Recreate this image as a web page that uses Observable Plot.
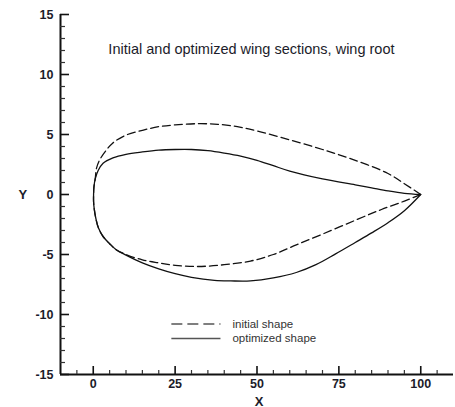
<!DOCTYPE html>
<html>
<head>
<meta charset="utf-8">
<script src="https://cdn.jsdelivr.net/npm/d3@7"></script>
<script src="https://cdn.jsdelivr.net/npm/@observablehq/plot@0.6"></script>
<style>
  html, body { margin: 0; padding: 0; background: #fff; }
  #chart svg { display: block; }
</style>
</head>
<body>
<div id="chart"></div>
<script>
// Initial wing section (root), traced trailing edge -> upper surface -> leading edge -> lower surface -> trailing edge
const initialX = [100, 95, 90, 80, 70, 60, 50, 44, 38, 32, 25, 20, 15, 10, 6, 4, 2, 1, 0.6, 0.2, 0.1,
                  0.1, 0.3, 0.8, 1.6, 3, 5, 7, 10, 15, 20, 25, 32, 40, 48, 55, 62, 70, 80, 88, 95, 100];
const initialY = [0, 0.9, 1.75, 2.85, 3.75, 4.55, 5.3, 5.65, 5.85, 5.9, 5.8, 5.65, 5.35, 4.95, 4.3, 3.7, 2.9, 2.2, 1.3, 0.6, 0,
                  -0.6, -1.2, -2.0, -2.8, -3.5, -4.1, -4.6, -5.0, -5.45, -5.7, -5.9, -6.0, -5.85, -5.55, -5.0, -4.2, -3.3, -2.15, -1.25, -0.55, 0];

// Optimized wing section (root)
const optimizedX = [100, 95, 90, 85, 80, 70, 60, 55, 50, 45, 40, 35, 30, 25, 20, 15, 10, 6, 3, 1.5, 0.6, 0.2, 0.1,
                    0.1, 0.3, 0.8, 1.6, 3, 5, 7, 10, 15, 20, 25, 30, 37, 42, 48, 55, 62, 68, 74, 80, 85, 90, 95, 100];
const optimizedY = [0, 0.1, 0.3, 0.55, 0.8, 1.3, 1.95, 2.4, 2.85, 3.2, 3.45, 3.65, 3.75, 3.75, 3.7, 3.55, 3.35, 3.05, 2.6, 2.0, 1.3, 0.6, 0,
                    -0.6, -1.2, -2.0, -2.8, -3.5, -4.1, -4.6, -5.05, -5.7, -6.2, -6.6, -6.9, -7.15, -7.2, -7.2, -6.95, -6.5, -5.85, -4.95, -4.0, -3.2, -2.35, -1.35, 0];

// Axis ticks and labels
const xMajorTicks = [0, 25, 50, 75, 100];
const xMinorTicks = [-5, 5, 10, 15, 20, 30, 35, 40, 45, 55, 60, 65, 70, 80, 85, 90, 95, 105];
const yMajorTicks = [-15, -10, -5, 0, 5, 10, 15];
const yMinorTicks = d3.range(-14, 15).filter(v => v % 5 !== 0);

const titleText = "Initial and optimized wing sections, wing root";
const seriesNames = ["initial shape", "optimized shape"];

const xDomain = [-10, 110];
const yDomain = [-15, 15];

const W = 455, H = 407;
const mLeft = 60, mRight = 2, mTop = 14, mBottom = 33;
const frameW = W - mLeft - mRight;
const frameH = H - mTop - mBottom;

const initial = initialX.map((x, i) => ({x, y: initialY[i]}));
const optimized = optimizedX.map((x, i) => ({x, y: optimizedY[i]}));

// Annotation anchors (data units)
const titleAt = {x: 48.3, y: 12.1};
const legendAt = {x1: 24, x2: 39, xText: 42.5, y: [-10.8, -12.0]};

const font = "'Liberation Sans', Arial, Helvetica, sans-serif";
const ink = "#1c1c2a";
const plain = d => String(d); // hyphen-minus, as on the printed axis

const chart = Plot.plot({
  width: W,
  height: H,
  marginLeft: mLeft,
  marginRight: mRight,
  marginTop: mTop,
  marginBottom: mBottom,
  style: {fontFamily: font, background: "#fff", overflow: "visible"},
  x: {domain: xDomain},
  y: {domain: yDomain},
  marks: [
    // axis lines
    Plot.ruleX([xDomain[0]], {stroke: "#111", strokeWidth: 2}),
    Plot.ruleY([yDomain[0]], {stroke: "#111", strokeWidth: 2}),
    // inward ticks on the x axis
    Plot.tickX(xMajorTicks, {x: d => d, insetTop: frameH - 8, stroke: "#111", strokeWidth: 1.6}),
    Plot.tickX(xMinorTicks, {x: d => d, insetTop: frameH - 4, stroke: "#333", strokeWidth: 1.2}),
    // inward ticks on the y axis
    Plot.tickY(yMajorTicks, {y: d => d, insetRight: frameW - 9, stroke: "#111", strokeWidth: 1.6}),
    Plot.tickY(yMinorTicks, {y: d => d, insetRight: frameW - 5, stroke: "#333", strokeWidth: 1.2}),
    // tick labels
    Plot.axisX({ticks: xMajorTicks, tickFormat: plain, tickSize: 0, tickPadding: 5, fontSize: 12.5, fontWeight: "bold", fill: ink, label: null}),
    Plot.axisY({ticks: yMajorTicks, tickFormat: plain, tickSize: 0, tickPadding: 7, fontSize: 12.5, fontWeight: "bold", fill: ink, label: null}),
    // axis titles
    Plot.text(["X"], {frameAnchor: "bottom", dx: 2, dy: 31, fontSize: 13, fontWeight: "bold", fill: ink}),
    Plot.text(["Y"], {frameAnchor: "left", dx: -42, fontSize: 13, fontWeight: "bold", fill: ink}),
    // wing sections
    Plot.line(initial, {x: "x", y: "y", stroke: "#111", strokeWidth: 1.3, strokeDasharray: "8,4", curve: "catmull-rom"}),
    Plot.line(optimized, {x: "x", y: "y", stroke: "#111", strokeWidth: 1.3, curve: "catmull-rom"}),
    // title
    Plot.text([titleText], {x: titleAt.x, y: titleAt.y, fontSize: 14.5, fill: ink}),
    // legend
    Plot.ruleY([legendAt.y[0]], {x1: legendAt.x1, x2: legendAt.x2, stroke: "#555", strokeWidth: 1.5, strokeDasharray: "11,5"}),
    Plot.ruleY([legendAt.y[1]], {x1: legendAt.x1, x2: legendAt.x2, stroke: "#555", strokeWidth: 1.5}),
    Plot.text(seriesNames, {x: legendAt.xText, y: (d, i) => legendAt.y[i], textAnchor: "start", fontSize: 11.5, fill: "#333"})
  ]
});

document.getElementById("chart").appendChild(chart);
</script>
</body>
</html>
